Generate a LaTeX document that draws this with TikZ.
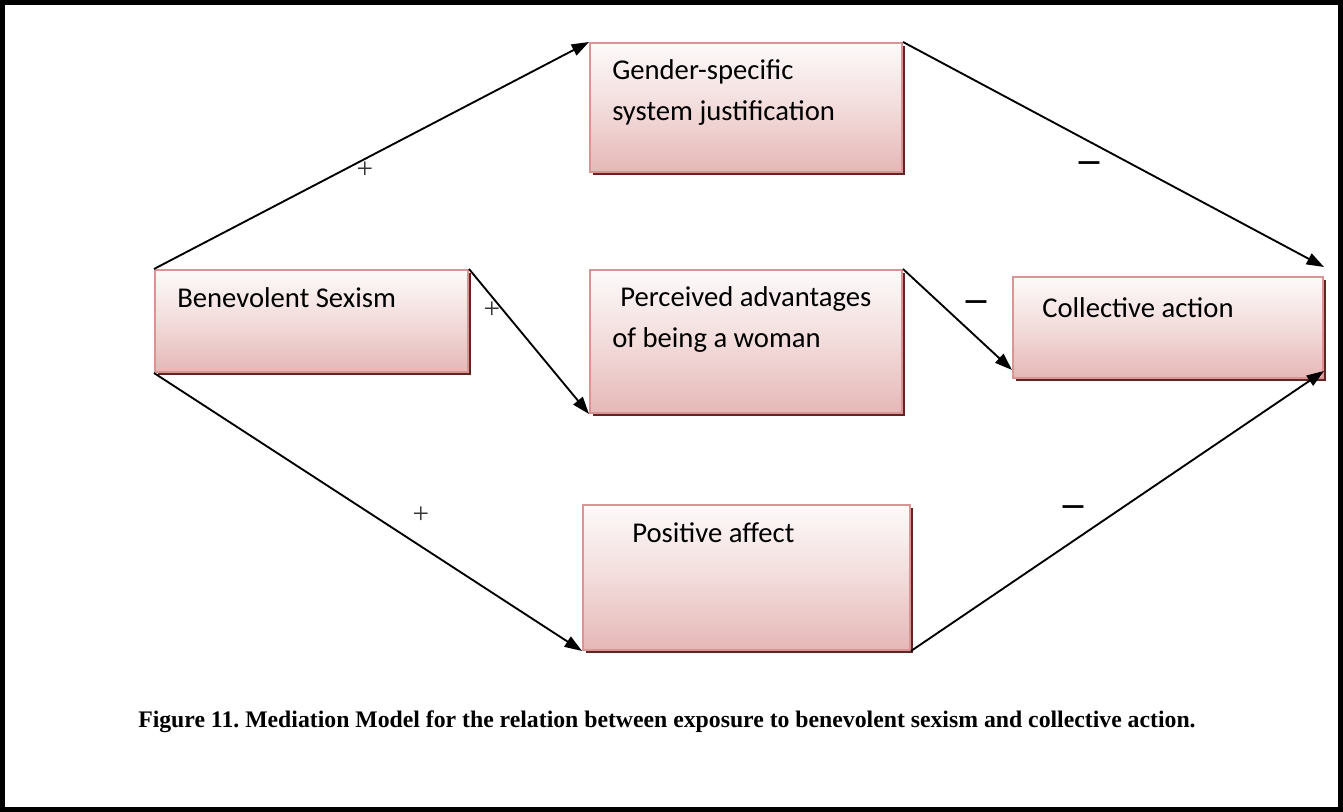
\documentclass[tikz,border=0pt]{standalone}
\usepackage{fontspec}
\setmainfont{Carlito}
\newfontfamily\captionfont{Liberation Serif}
\newfontfamily\signfont{DejaVu Sans}
\usetikzlibrary{arrows.meta, fit, calc, shadows}
\definecolor{BoxLine}{HTML}{D99594}
\definecolor{BoxTop}{HTML}{FDFAFA}
\definecolor{BoxMid}{HTML}{F2DCDB}
\definecolor{BoxBottom}{HTML}{E5B8B7}
\definecolor{BoxShadow}{HTML}{632523}

\begin{document}
\begin{tikzpicture}[x=0.75pt, y=-0.75pt,
  varbox/.style={draw=BoxLine, line width=1.5pt, inner sep=0pt,
    top color=BoxTop, bottom color=BoxBottom, middle color=BoxMid,
    drop shadow={fill=BoxShadow, opacity=1, shadow xshift=2pt, shadow yshift=-2pt}},
  boxtext/.style={anchor=base west, inner sep=0pt, align=left,
    font=\fontsize{21.5}{30.75}\selectfont},
  link/.style={-{Triangle[length=13pt, width=9pt]}, line width=1.4pt},
  sign/.style={inner sep=0pt}]
  \useasboundingbox (0,0) rectangle (1343,812);
  \draw[line width=3.75pt] (2.5,2.5) rectangle (1340.5,809.5);

  % boxes
  \node[varbox, fit={(155,270) (468,372)}] (bs) {};
  \node[varbox, fit={(590,43) (902,172)}] (gs) {};
  \node[varbox, fit={(590,270) (902,413)}] (pa) {};
  \node[varbox, fit={(1013,277) (1323,378)}] (ca) {};
  \node[varbox, fit={(583,505) (910,650)}] (pos) {};

  % box texts (base = last line)
  \node[boxtext] (bs-text) at (177,308) {Benevolent Sexism};
  \node[boxtext] (gs-text) at (612,121) {Gender-specific\\system justification};
  \node[boxtext] (pa-text) at (612,348) {\hspace{6pt}Perceived advantages\\of being a woman};
  \node[boxtext] (ca-text) at (1042,318) {Collective action};
  \node[boxtext] (pos-text) at (632,543) {Positive affect};

  % arrows
  \coordinate (ca-in1) at ($(ca.north east)+(0,-9)$);
  \coordinate (ca-in2) at ($(ca.south west)+(0,-9)$);
  \coordinate (ca-in3) at ($(ca.south east)+(0,-8)$);
  \draw[link] (bs.north west) -- (gs.north west);
  \draw[link] (bs.north east) -- (pa.south west);
  \draw[link] (bs.south west) -- (pos.south west);
  \draw[link] (gs.north east) -- (ca-in1);
  \draw[link] (pa.north east) -- (ca-in2);
  \draw[link] (pos.south east) -- (ca-in3);

  % signs
  \foreach \n/\x/\y in {p1/365/170, p2/492/310, p3/421/515}
    \node[sign, text=black!80] (\n) at (\x,\y) {\captionfont\fontsize{22}{22}\selectfont +};
  \foreach \n/\x/\y in {m1/1089/168, m2/976/307, m3/1073/512}
    \node[sign] (\n) at (\x,\y) {\signfont\fontsize{25}{25}\selectfont −};

  \node[anchor=base west, inner sep=0pt, font=\captionfont\bfseries\fontsize{17.8}{21}\selectfont] (caption) at (138,727)
    {\frenchspacing Figure 11. Mediation Model for the relation between exposure to benevolent sexism and collective action.};
\end{tikzpicture}
\end{document}
